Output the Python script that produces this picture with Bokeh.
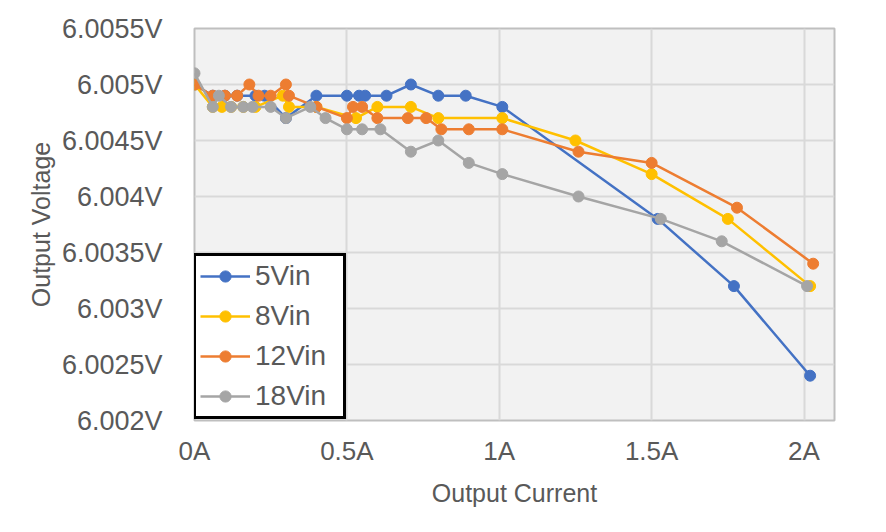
from bokeh.plotting import figure
from bokeh.models import Range1d, FixedTicker, CustomJSTickFormatter, Legend
from bokeh.embed import file_html
from bokeh.resources import INLINE

# ---- data ----
current_5 = [0, 0.06, 0.1, 0.14, 0.2, 0.23, 0.3, 0.4, 0.5, 0.54, 0.56, 0.63, 0.71, 0.8, 0.89, 1.01, 1.52, 1.77, 2.02]
volt_5 = [6.005, 6.0049, 6.0049, 6.0049, 6.0049, 6.0049, 6.0047, 6.0049, 6.0049, 6.0049, 6.0049, 6.0049, 6.005, 6.0049, 6.0049, 6.0048, 6.0038, 6.0032, 6.0024]

current_8 = [0, 0.06, 0.09, 0.12, 0.16, 0.2, 0.29, 0.31, 0.4, 0.53, 0.6, 0.71, 0.8, 1.01, 1.25, 1.5, 1.75, 2.02]
volt_8 = [6.005, 6.0048, 6.0048, 6.0048, 6.0048, 6.0048, 6.0049, 6.0048, 6.0048, 6.0047, 6.0048, 6.0048, 6.0047, 6.0047, 6.0045, 6.0042, 6.0038, 6.0032]

current_12 = [0, 0.06, 0.1, 0.14, 0.18, 0.21, 0.25, 0.3, 0.31, 0.4, 0.5, 0.52, 0.55, 0.6, 0.7, 0.76, 0.81, 0.9, 1.01, 1.26, 1.5, 1.78, 2.03]
volt_12 = [6.005, 6.0049, 6.0049, 6.0049, 6.005, 6.0049, 6.0049, 6.005, 6.0049, 6.0048, 6.0047, 6.0048, 6.0048, 6.0047, 6.0047, 6.0047, 6.0046, 6.0046, 6.0046, 6.0044, 6.0043, 6.0039, 6.0034]

current_18 = [0, 0.06, 0.08, 0.12, 0.16, 0.19, 0.25, 0.3, 0.38, 0.43, 0.5, 0.55, 0.61, 0.71, 0.8, 0.9, 1.01, 1.26, 1.53, 1.73, 2.01]
volt_18 = [6.0051, 6.0048, 6.0049, 6.0048, 6.0048, 6.0048, 6.0048, 6.0047, 6.0048, 6.0047, 6.0046, 6.0046, 6.0046, 6.0044, 6.0045, 6.0043, 6.0042, 6.004, 6.0038, 6.0036, 6.0032]

series_names = ["5Vin", "8Vin", "12Vin", "18Vin"]
series_colors = ["#4472C4", "#FFC000", "#ED7D31", "#A5A5A5"]

x_ticks = [0, 0.5, 1, 1.5, 2]
x_tick_labels = ["0A", "0.5A", "1A", "1.5A", "2A"]
y_ticks = [6.002, 6.0025, 6.003, 6.0035, 6.004, 6.0045, 6.005, 6.0055]
y_tick_labels = ["6.002V", "6.0025V", "6.003V", "6.0035V", "6.004V", "6.0045V", "6.005V", "6.0055V"]

FONT = "Liberation Sans"
TXT = "#595959"

p = figure(width=886, height=532, output_backend="svg", toolbar_location=None,
           x_range=Range1d(0, 2.1), y_range=Range1d(6.002, 6.0055),
           min_border_left=194, min_border_right=52, min_border_top=28, min_border_bottom=112)
p.background_fill_color = "#F2F2F2"
p.border_fill_color = "white"
p.outline_line_color = "#BFBFBF"
p.outline_line_width = 2

fmt_code = """
let i = 0, b = 1e9;
for (let k = 0; k < tv.length; k++) { const d = Math.abs(tv[k] - tick); if (d < b) { b = d; i = k; } }
return tl[i];
"""
p.xaxis.ticker = FixedTicker(ticks=x_ticks)
p.xaxis.formatter = CustomJSTickFormatter(args=dict(tv=x_ticks, tl=x_tick_labels), code=fmt_code)
p.yaxis.ticker = FixedTicker(ticks=y_ticks)
p.yaxis.formatter = CustomJSTickFormatter(args=dict(tv=y_ticks, tl=y_tick_labels), code=fmt_code)

for ax in (p.xaxis, p.yaxis):
    ax.axis_line_color = None
    ax.major_tick_line_color = None
    ax.minor_tick_line_color = None
    ax.major_label_text_font = FONT
    ax.major_label_text_color = TXT
    ax.axis_label_text_font = FONT
    ax.axis_label_text_color = TXT
    ax.axis_label_text_font_style = "normal"
    ax.axis_label_text_font_size = "25px"

p.xaxis.major_label_text_font_size = "26px"
p.yaxis.major_label_text_font_size = "27px"
p.xaxis.axis_label = "Output Current"
p.yaxis.axis_label = "Output Voltage"
p.xaxis.major_label_standoff = 9
p.yaxis.major_label_standoff = 26
p.xaxis.axis_label_standoff = 10
p.yaxis.axis_label_standoff = 4

p.xgrid.grid_line_color = "#D9D9D9"
p.ygrid.grid_line_color = "#D9D9D9"
p.xgrid.grid_line_width = 2
p.ygrid.grid_line_width = 2

xs = [current_5, current_8, current_12, current_18]
ys = [volt_5, volt_8, volt_12, volt_18]
items = []
for name, col, x, y in zip(series_names, series_colors, xs, ys):
    l = p.line(x, y, line_color=col, line_width=2.5)
    s = p.scatter(x, y, size=11, fill_color=col, line_color=col)
    items.append((name, [l, s]))

legend = Legend(items=items, location=(-1, 1))
legend.border_line_color = "black"
legend.border_line_alpha = 1
legend.border_line_width = 3
legend.background_fill_color = "white"
legend.background_fill_alpha = 1
legend.label_text_font = FONT
legend.label_text_font_size = "28px"
legend.label_text_color = TXT
legend.glyph_width = 50
legend.glyph_height = 28
legend.label_height = 28
legend.spacing = 8
legend.padding = 4
legend.margin = 0
legend.label_standoff = 5
legend.label_width = 84
p.add_layout(legend, "center")

open("out.html", "w").write(file_html(p, INLINE))
